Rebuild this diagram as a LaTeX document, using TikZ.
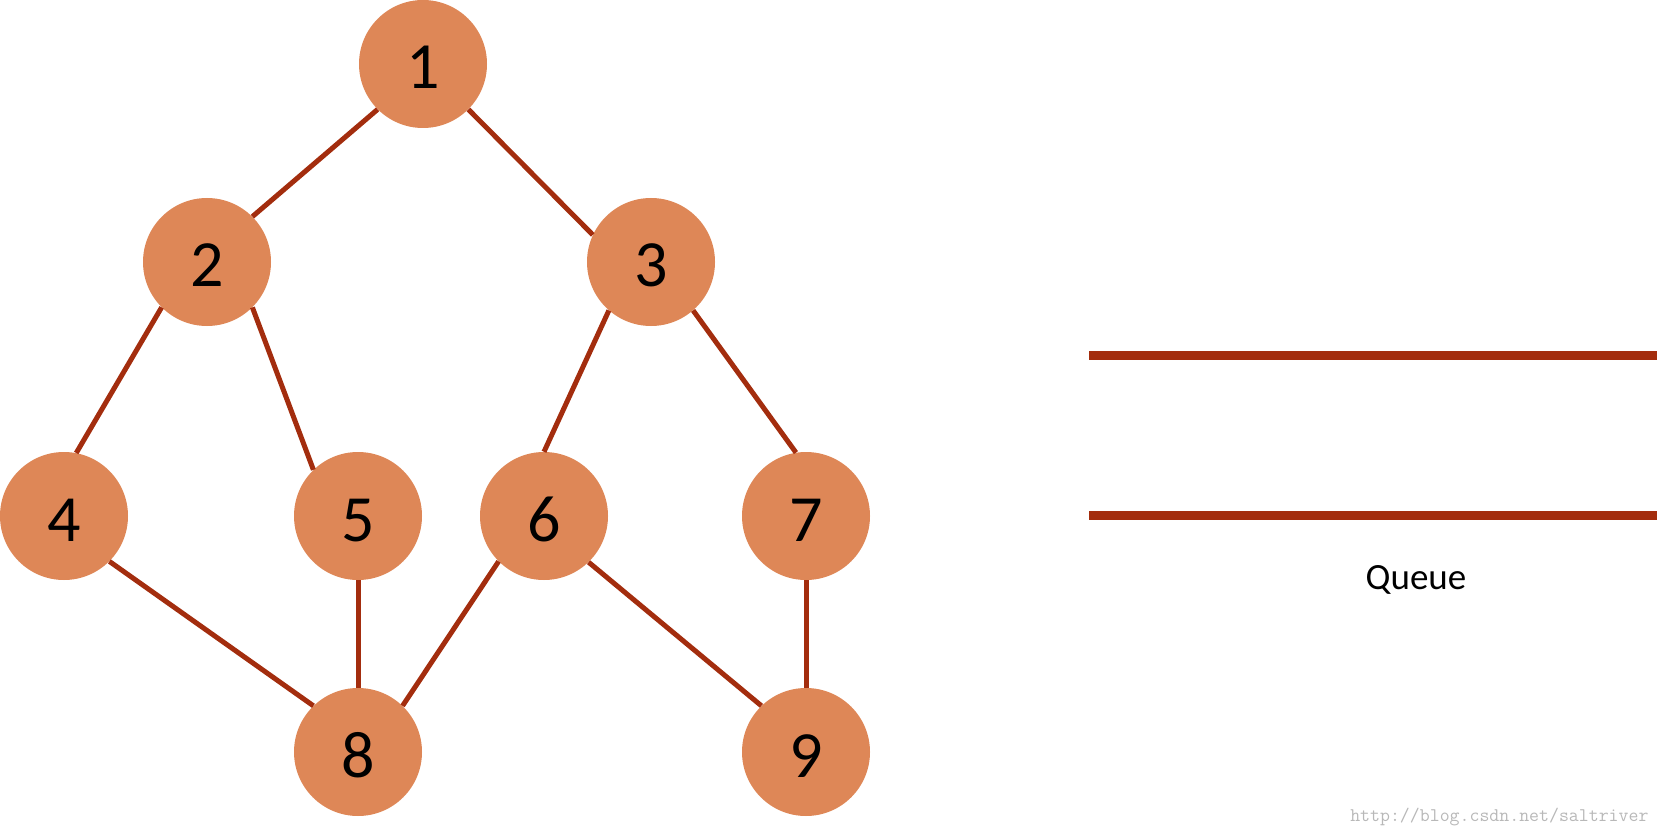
\documentclass[tikz,border=0pt]{standalone}
\usepackage{fontspec}
\setmainfont{Carlito}
\definecolor{vertexfill}{HTML}{DE8757}
\definecolor{edgered}{HTML}{A32D0E}
\begin{document}
\begin{tikzpicture}[x=1pt, y=-1pt]
  \tikzset{vertex/.style={circle, fill=vertexfill, inner sep=0pt, minimum size=128pt, text height=50pt, text depth=0pt, font=\fontsize{66}{66}\selectfont},
           edge/.style={draw=edgered, line width=5pt}}
  \useasboundingbox (0,0) rectangle (1663,837);
  \node[vertex] (v1) at (423, 64)  {1};
  \node[vertex] (v2) at (207, 262) {2};
  \node[vertex] (v3) at (651, 262) {3};
  \node[vertex] (v4) at (64, 516)  {4};
  \node[vertex] (v5) at (358, 516) {5};
  \node[vertex] (v6) at (544, 516) {6};
  \node[vertex] (v7) at (806, 516) {7};
  \node[vertex] (v8) at (358, 752) {8};
  \node[vertex] (v9) at (806, 752) {9};
  \draw[edge] (v1.225) -- (v2.45);
  \draw[edge] (v1.315) -- (v3.155);
  \draw[edge] (v2.225) -- (v4.79);
  \draw[edge] (v2.315) -- (v5.134);
  \draw[edge] (v3.229) -- (v6.90);
  \draw[edge] (v3.311) -- (v7.99);
  \draw[edge] (v4.315) -- (v8.134);
  \draw[edge] (v5.270) -- (v8.90);
  \draw[edge] (v6.225) -- (v8.46);
  \draw[edge] (v6.314) -- (v9.134);
  \draw[edge] (v7.270) -- (v9.90);
  % queue
  \coordinate (qtl) at (1089, 355);
  \coordinate (qtr) at (1657, 355);
  \coordinate (qbl) at (1089, 515);
  \coordinate (qbr) at (1657, 515);
  \draw[edgered, line width=9pt] (qtl) -- (qtr);
  \draw[edgered, line width=9pt] (qbl) -- (qbr);
  \node[font=\fontsize{37}{37}\selectfont] (qlabel) at (1416, 580) {Queue};
  \node[font=\ttfamily\fontsize{19.3}{19.3}\selectfont, text=black!28, anchor=east] (wmark) at (1652, 817) {http://blog.csdn.net/saltriver};
\end{tikzpicture}
\end{document}
